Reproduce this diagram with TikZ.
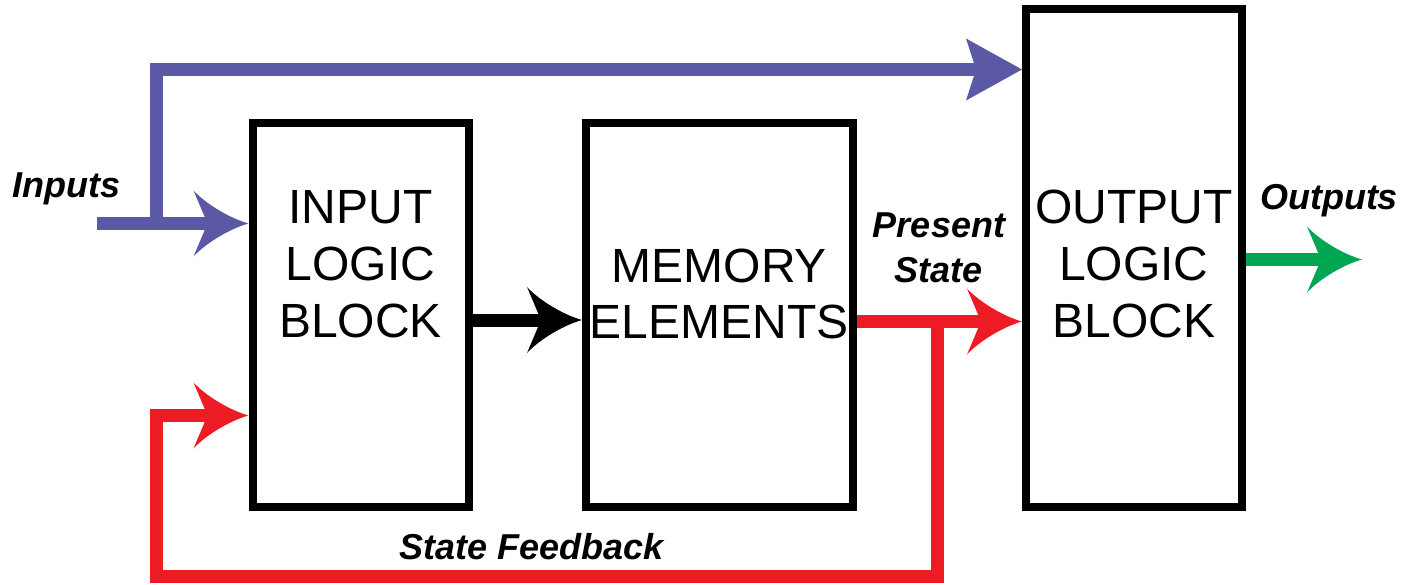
\documentclass[tikz,border=0pt]{standalone}
\usepackage{fontspec}
\setmainfont{Liberation Sans}

% filled arrow head with concave sides
\pgfdeclarearrow{
  name = concavehead,
  setup code = {
    \pgfarrowssettipend{0pt}
    \pgfarrowssetbackend{-55pt}
    \pgfarrowssetlineend{-40pt}
    \pgfarrowssetvisualbackend{-41pt}
  },
  drawing code = {
    \pgfpathmoveto{\pgfqpoint{0pt}{0pt}}
    \pgfpathcurveto{\pgfqpoint{-18pt}{5pt}}{\pgfqpoint{-42pt}{19pt}}{\pgfqpoint{-55pt}{33pt}}
    \pgfpathlineto{\pgfqpoint{-41pt}{0pt}}
    \pgfpathlineto{\pgfqpoint{-55pt}{-33pt}}
    \pgfpathcurveto{\pgfqpoint{-42pt}{-19pt}}{\pgfqpoint{-18pt}{-5pt}}{\pgfqpoint{0pt}{0pt}}
    \pgfpathclose
    \pgfusepathqfill
  }
}
% filled arrow head with straight sides
\pgfdeclarearrow{
  name = flathead,
  setup code = {
    \pgfarrowssettipend{0pt}
    \pgfarrowssetbackend{-56pt}
    \pgfarrowssetlineend{-44pt}
    \pgfarrowssetvisualbackend{-46pt}
  },
  drawing code = {
    \pgfpathmoveto{\pgfqpoint{0pt}{0pt}}
    \pgfpathlineto{\pgfqpoint{-56pt}{31pt}}
    \pgfpathlineto{\pgfqpoint{-46pt}{0pt}}
    \pgfpathlineto{\pgfqpoint{-56pt}{-31pt}}
    \pgfpathclose
    \pgfusepathqfill
  }
}

\definecolor{inblue}{HTML}{5B58A6}
\definecolor{fbred}{HTML}{ED1C24}
\definecolor{outgreen}{HTML}{00A651}

\tikzset{
  block/.style={draw=black, line width=8pt, minimum height=384pt, inner sep=0pt},
  blocktext/.style={anchor=base, inner sep=0pt, font=\fontsize{48}{57}\selectfont},
  sigtext/.style={anchor=base, inner sep=0pt, font=\fontsize{36}{42}\selectfont\bfseries\itshape},
  wire/.style={line width=13pt},
  bluewire/.style={wire, draw=inblue},
  redwire/.style={wire, draw=fbred},
  greenwire/.style={wire, draw=outgreen},
  blackwire/.style={wire, draw=black},
}

\begin{document}
\begin{tikzpicture}[x=1pt, y=-1pt]
  \useasboundingbox (0,0) rectangle (1417,584);

  % the three blocks
  \node[block, minimum width=216pt] (ilb) at (360.5,315) {};
  \node[block, minimum width=266.5pt] (mem) at (719.25,315) {};
  \node[block, minimum width=215.5pt, minimum height=498.5pt] (olb) at (1133.75,257.75) {};

  % block captions
  \node[blocktext] (ilb1) at (360.5,223) {INPUT};
  \node[blocktext] (ilb2) at (360.5,280) {LOGIC};
  \node[blocktext] (ilb3) at (360.5,337) {BLOCK};
  \node[blocktext] (mem1) at (719.25,282) {MEMORY};
  \node[blocktext] (mem2) at (719.25,338) {ELEMENTS};
  \node[blocktext] (olb1) at (1133.75,223) {OUTPUT};
  \node[blocktext] (olb2) at (1133.75,280) {LOGIC};
  \node[blocktext] (olb3) at (1133.75,337) {BLOCK};

  % signal labels
  \node[sigtext] (lin) at (66.5,197) {Inputs};
  \node[sigtext] (lout) at (1329,209) {Outputs};
  \node[sigtext] (lps1) at (939,237) {Present};
  \node[sigtext] (lps2) at (938.5,282) {State};
  \node[sigtext] (lfb) at (531.5,559) {State Feedback};

  % inputs and the bypass to the output logic
  \coordinate (inA) at (97,223.5);
  \coordinate (bj) at (156.5,223.5);
  \coordinate (bt) at (156.5,69.5);
  \draw[bluewire, -concavehead] (inA) -- (inA -| ilb.west);
  \draw[bluewire, -flathead] (bj) -- (bt) -- (bt -| olb.west);

  % next state into memory
  \draw[blackwire, -concavehead] ([yshift=-5pt]ilb.east) -- ([yshift=-5pt]mem.west);

  % present state and its feedback
  \coordinate (ps) at ([yshift=-6.5pt]mem.east);
  \coordinate (fj) at (937.5,321.5);
  \coordinate (fb1) at (937.5,576.5);
  \coordinate (fb2) at (156.5,576.5);
  \coordinate (fb3) at (156.5,415.5);
  \draw[redwire, -concavehead] (ps) -- (ps -| olb.west);
  \draw[redwire, -concavehead] (fj) -- (fb1) -- (fb2) -- (fb3) -- (fb3 -| ilb.west);

  % outputs
  \coordinate (outTip) at (1362,259.5);
  \draw[greenwire, -concavehead] (outTip -| olb.east) -- (outTip);
\end{tikzpicture}
\end{document}
